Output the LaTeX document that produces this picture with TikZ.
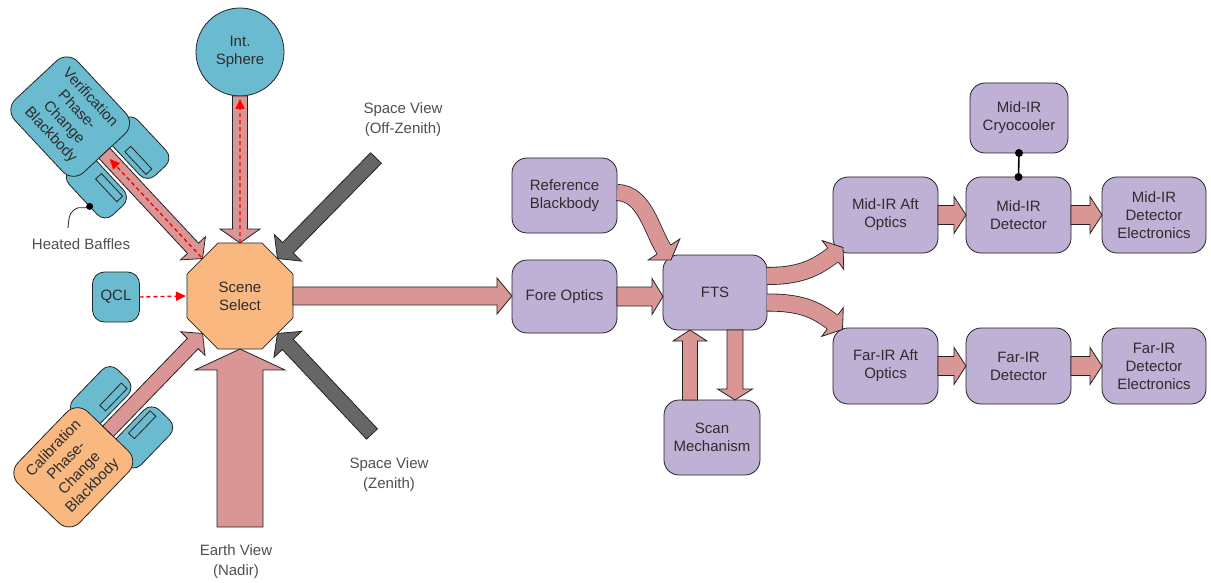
\documentclass[tikz,border=0pt]{standalone}
\usepackage{fontspec}
\setmainfont{Liberation Sans}
\usetikzlibrary{shapes.geometric,arrows.meta,calc}
\definecolor{lav}{RGB}{191,176,213}
\definecolor{tealc}{RGB}{106,187,207}
\definecolor{orng}{RGB}{248,184,128}
\definecolor{pinka}{RGB}{217,150,148}
\definecolor{graya}{RGB}{102,102,102}
\definecolor{edge}{RGB}{35,35,35}
\definecolor{txt}{RGB}{45,45,45}
\definecolor{lblc}{RGB}{80,80,80}
\tikzset{
  basenode/.style={draw=edge,line width=0.8pt,text=txt,align=center,font=\fontsize{15}{18}\selectfont,inner sep=1pt,outer sep=0pt},
  pbox/.style={basenode,fill=lav,rounded corners=15pt,minimum width=105pt,minimum height=75pt},
  tbox/.style={basenode,fill=tealc,rounded corners=15pt},
  obox/.style={basenode,fill=orng,rounded corners=15pt},
  octo/.style={basenode,fill=orng,regular polygon,regular polygon sides=8,minimum size=114.7pt,inner sep=0pt},
  lbl/.style={text=lblc,align=center,font=\fontsize{15}{20}\selectfont},
  fatarr/.style={fill=pinka,draw=edge,line width=0.8pt,line join=miter},
  baffle/.style={fill=tealc,draw=edge,line width=0.8pt,rounded corners=11pt},
  baffin/.style={draw=edge,line width=0.8pt},
  reddash/.style={draw=red,line width=1.4pt,dash pattern=on 4pt off 3pt,-{Triangle[length=10pt,width=9pt]}},
}
% straight block arrow: [style]{from}{to}{half shaft}{half head}{head length}
\newcommand\fatarrow[6][]{%
  \path (#2) coordinate (faA) (#3) coordinate (faB);
  \path ($(faB)!#6!(faA)$) coordinate (faC);
  \filldraw[fatarr,#1] ($(faA)!#4!90:(faB)$) -- ($(faC)!#4!90:(faB)$) -- ($(faC)!#5!90:(faB)$) -- (faB)
     -- ($(faC)!#5!-90:(faB)$) -- ($(faC)!#4!-90:(faB)$) -- ($(faA)!#4!-90:(faB)$) -- cycle;
}
% curved block arrow: {start}{c1}{c2 distance}{head base}{tip}{half shaft}{half head}{double distance}
\newcommand\curvearrow[8]{%
  \path ($(#4)!-#3!(#5)$) coordinate (caC);
  \draw[line width=0.8pt,draw=edge,double=pinka,double distance=#8] (#1) .. controls (#2) and (caC) .. (#4);
  \fill[pinka] ($(#4)!#6!90:(#5)$) -- ($(#4)!#7!90:(#5)$) -- (#5) -- ($(#4)!#7!-90:(#5)$) -- ($(#4)!#6!-90:(#5)$) -- cycle;
  \draw[line width=0.8pt,draw=edge,line join=miter] ($(#4)!#6!90:(#5)$) -- ($(#4)!#7!90:(#5)$) -- (#5) -- ($(#4)!#7!-90:(#5)$) -- ($(#4)!#6!-90:(#5)$);
}
\begin{document}
\begin{tikzpicture}[x=1pt,y=-1pt]
\useasboundingbox (0,0) rectangle (1211,583);
\fill[white] (0,0) rectangle (1211,583);

% ---------- left part ----------
\node[octo] (ss) at (240,296) {Scene\\Select};
\node[basenode,circle,fill=tealc,minimum size=88pt] (sph) at (240,52) {Int.\\Sphere};
\node[tbox,minimum width=47pt,minimum height=50pt,rounded corners=12pt] (qcl) at (116,297) {QCL};

% verification blackbody with baffles
\coordinate (vbc) at (70.2,116.6);
\begin{scope}[shift={(vbc)},rotate=-47]
  \draw[baffle] (38,11) rectangle (101,47);
  \draw[baffle] (38,-11) rectangle (101,-47);
  \draw[baffin] (63,16) rectangle (94,24);
  \draw[baffin] (63,-16) rectangle (94,-24);
  \coordinate (hbdot) at (79,47);
\end{scope}
\node[tbox,rotate=-47,minimum width=100pt,minimum height=86pt] (vbb) at (vbc) {Verification\\Phase-\\Change\\Blackbody};

% calibration blackbody with baffles
\coordinate (cbc) at (73.3,467.3);
\begin{scope}[shift={(cbc)},rotate=46]
  \draw[baffle] (38,11) rectangle (101,47);
  \draw[baffle] (38,-11) rectangle (101,-47);
  \draw[baffin] (63,16) rectangle (94,24);
  \draw[baffin] (63,-16) rectangle (94,-24);
\end{scope}
\node[obox,rotate=46,minimum width=100pt,minimum height=86pt] (cbb) at (cbc) {Calibration\\Phase-\\Change\\Blackbody};

% arrows into scene select
\fatarrow{sph.south}{ss.north}{7.5pt}{20pt}{14pt}
\fatarrow{vbb.east}{ss.135}{7.5pt}{17pt}{14pt}
\fatarrow{cbb.east}{ss.-135}{7.5pt}{17pt}{14pt}
\coordinate (earth) at (240,527);
\fatarrow{earth}{ss.south}{23pt}{45pt}{21pt}
\coordinate (offz) at (376,158);
\coordinate (zen) at (372,434);
\fatarrow[fill=graya]{offz}{ss.45}{7.5pt}{19pt}{15pt}
\fatarrow[fill=graya]{zen}{ss.-45}{7.5pt}{19pt}{15pt}

% red dashed
\draw[reddash,shorten >=3pt] (ss.north) -- (sph.south);
\draw[reddash,shorten >=8pt,shorten <=2pt] (ss.135) -- (vbb.east);
\draw[reddash,shorten >=1pt] (qcl.east) -- (ss.west);

% labels
\node[lbl] (offzl) at (403,120) {Space View\\(Off-Zenith)};
\node[lbl] (zenl) at (389,475) {Space View\\(Zenith)};
\node[lbl] (earthl) at (236,562) {Earth View\\(Nadir)};
\node[lbl] (hbl) at (81,244) {Heated Baffles};
\coordinate (hbend) at (68,228);
\draw[line width=0.8pt,draw=edge] (hbdot) .. controls (84,210) and (80,205) .. (74,210) .. controls (68,214) and (69,221) .. (hbend);
\fill[black] (hbdot) circle (3.5pt);

% ---------- right part ----------
\node[pbox] (ref) at (564.5,195.5) {Reference\\Blackbody};
\node[pbox,minimum height=73pt] (fore) at (564.5,296.5) {Fore Optics};
\node[pbox,minimum width=104pt] (fts) at (715,292.5) {FTS};
\node[pbox,minimum width=96pt] (scan) at (712,437.5) {Scan\\Mechanism};
\node[pbox,minimum height=76pt] (midaft) at (885.5,215) {Mid-IR Aft\\Optics};
\node[pbox,minimum height=76pt] (midet) at (1018.5,215) {Mid-IR\\Detector};
\node[pbox,minimum height=76pt,minimum width=104pt] (midel) at (1154,215) {Mid-IR\\Detector\\Electronics};
\node[pbox,minimum width=98pt,minimum height=70pt] (cryo) at (1019,118) {Mid-IR\\Cryocooler};
\node[pbox,minimum height=76pt] (faraft) at (885.5,366) {Far-IR Aft\\Optics};
\node[pbox,minimum height=76pt] (faret) at (1018.5,366) {Far-IR\\Detector};
\node[pbox,minimum height=76pt,minimum width=104pt] (farel) at (1154,366) {Far-IR\\Detector\\Electronics};

\fatarrow{ss.east}{ss.east -| fore.west}{9pt}{18pt}{15pt}
\fatarrow{fore.east}{fore.east -| fts.west}{9.5pt}{18pt}{11pt}
\coordinate (su) at ($(scan.north)+(-22,0)$);
\fatarrow{su}{su |- fts.south}{7.5pt}{17pt}{11pt}
\coordinate (sd) at ($(fts.south)+(20,0)$);
\fatarrow{sd}{sd |- scan.north}{8pt}{17.5pt}{11pt}
\fatarrow{midaft.east}{midet.west}{9.5pt}{18.5pt}{12pt}
\fatarrow{midet.east}{midel.west}{9.5pt}{18.5pt}{12pt}
\fatarrow{faraft.east}{faret.west}{9.5pt}{18.5pt}{12pt}
\fatarrow{faret.east}{farel.west}{9.5pt}{18.5pt}{12pt}

% curved arrows
\coordinate (refout) at ($(ref.east)+(0,-3)$);
\coordinate (refbase) at (664,249.5);
\coordinate (reftip) at (671,260);
\curvearrow{refout}{645,193}{22pt}{refbase}{reftip}{8.5pt}{19pt}{15.4pt}
\coordinate (mout) at ($(fts.east)+(0,-16.5)$);
\coordinate (mbase) at (833,255);
\coordinate (mtip) at (843,247.5);
\curvearrow{mout}{800,276}{22pt}{mbase}{mtip}{9pt}{18pt}{16.4pt}
\coordinate (fout) at ($(fts.east)+(0,10)$);
\coordinate (fbase) at (832.5,322);
\coordinate (ftip) at (842.5,329.5);
\curvearrow{fout}{800,302.5}{22pt}{fbase}{ftip}{9pt}{18pt}{16.4pt}

% cryocooler link
\draw[line width=1.6pt,draw=black] (cryo.south) -- (midet.north);
\fill[black] (cryo.south) circle (4pt);
\fill[black] (midet.north) circle (4pt);
\end{tikzpicture}
\end{document}
